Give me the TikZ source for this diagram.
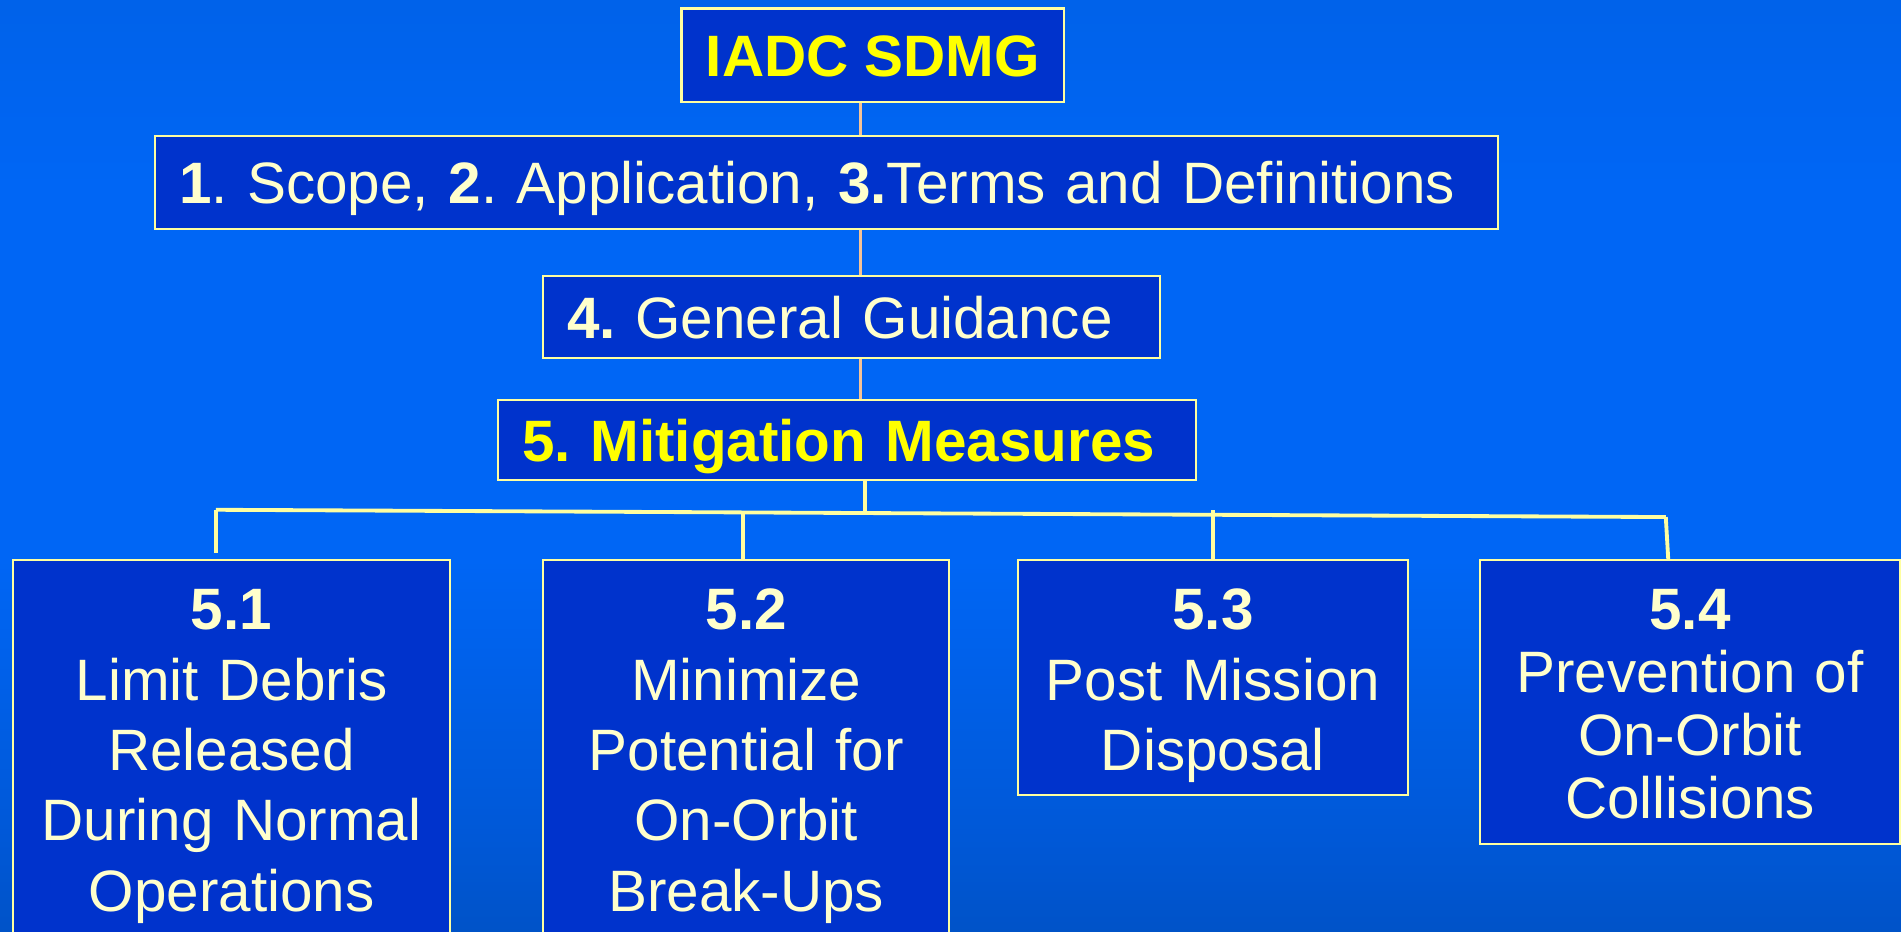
\documentclass[tikz,border=0pt]{standalone}
\usepackage{fontspec}
\setmainfont{Liberation Sans}
\usepackage{tikz}
\usetikzlibrary{positioning}
\frenchspacing
\definecolor{boxblue}{RGB}{0,51,204}
\definecolor{edgeyellow}{RGB}{255,255,160}
\definecolor{textcream}{RGB}{255,255,204}
\definecolor{headyellow}{RGB}{255,255,0}
\definecolor{trunktan}{RGB}{245,195,150}
\definecolor{bgtop}{RGB}{0,88,205}
\definecolor{bgmid}{RGB}{0,102,245}
\definecolor{bgfall}{RGB}{0,88,215}
\definecolor{bglow}{RGB}{0,72,170}
\definecolor{bgbot}{RGB}{0,56,136}
\pgfdeclareverticalshading{slide}{100bp}{color(0bp)=(bgbot); color(15bp)=(bglow); color(30bp)=(bgfall); color(45bp)=(bgmid); color(65bp)=(bgmid); color(100bp)=(bgtop)}
\tikzset{
  basebox/.style={draw=edgeyellow,line width=0.5pt,fill=boxblue,text=textcream,
    font=\fontsize{13.7pt}{16.5pt}\selectfont},
  headbox/.style={basebox,inner xsep=0.2cm,inner ysep=0pt,text height=0.35cm,text depth=0pt,align=left},
  subbox/.style={basebox,anchor=north,inner xsep=0pt,inner ysep=0.225cm,text height=0.35cm,align=center},
  trunk/.style={draw=trunktan,line width=0.65pt},
  branch/.style={draw=edgeyellow,line width=0.9pt}
}

\begin{document}
\begin{tikzpicture}[x=0.01cm,y=-0.01cm]
  \useasboundingbox (0,0) rectangle (1568,768);
  \clip (0,0) rectangle (1568,768);
  \shade[shading=slide] (0,0) rectangle (1568,768);

  % heading boxes
  \node[headbox,align=center,minimum width=3.14cm,minimum height=0.77cm,text=headyellow] (iadc) at (720,45.5) {\textbf{IADC SDMG}};
  \node[headbox,text width=10.67cm,minimum height=0.77cm] (scope) at (681.5,150.5) {\textbf{1}. Scope, \textbf{2}. Application, \textbf{3.}Terms and Definitions};
  \node[headbox,text width=4.69cm,minimum height=0.67cm] (general) at (702.5,261.5) {\textbf{4.} General Guidance};
  \node[headbox,text width=5.35cm,minimum height=0.66cm,text=headyellow] (mitig) at (698.5,363) {\textbf{5. Mitigation Measures}};

  % measure boxes
  \node[subbox,text width=3.60cm,text depth=3cm] (s51) at (191,461) {\textbf{5.1}\\Limit Debris\\Released\\During Normal\\Operations};
  \node[subbox,text width=3.35cm,text depth=3cm] (s52) at (615.5,461) {\textbf{5.2}\\Minimize\\Potential for\\On-Orbit\\Break-Ups};
  \node[subbox,text width=3.21cm,text depth=1.14cm] (s53) at (1000.5,461) {\textbf{5.3}\\Post Mission\\Disposal};
  \node[subbox,text width=3.47cm,text depth=1.54cm,font=\fontsize{13.7pt}{14.8pt}\selectfont] (s54) at (1394,461) {\textbf{5.4}\\Prevention of\\On-Orbit\\Collisions};

  % connectors
  \coordinate (spine) at (710,0);
  \draw[trunk] (iadc.south -| spine) -- (scope.north -| spine);
  \draw[trunk] (scope.south -| spine) -- (general.north -| spine);
  \draw[trunk] (general.south -| spine) -- (mitig.north -| spine);

  \coordinate (hub) at (713.5,423.2);
  \coordinate (k1) at (178,420.5);
  \coordinate (k2) at (613,422.7);
  \coordinate (k3) at (1000.5,421);
  \coordinate (k4) at (1374,426.5);
  \coordinate (k1foot) at (178,456);
  \coordinate (k4foot) at (1376,461);
  \draw[branch] (mitig.south -| hub) -- (hub);
  \draw[branch] (k1) -- (k4);
  \draw[branch] (k1) -- (k1foot);
  \draw[branch] (k2) -- (k2 |- s52.north);
  \draw[branch] (k3) -- (k3 |- s53.north);
  \draw[branch] (k4) -- (k4foot);
\end{tikzpicture}
\end{document}
